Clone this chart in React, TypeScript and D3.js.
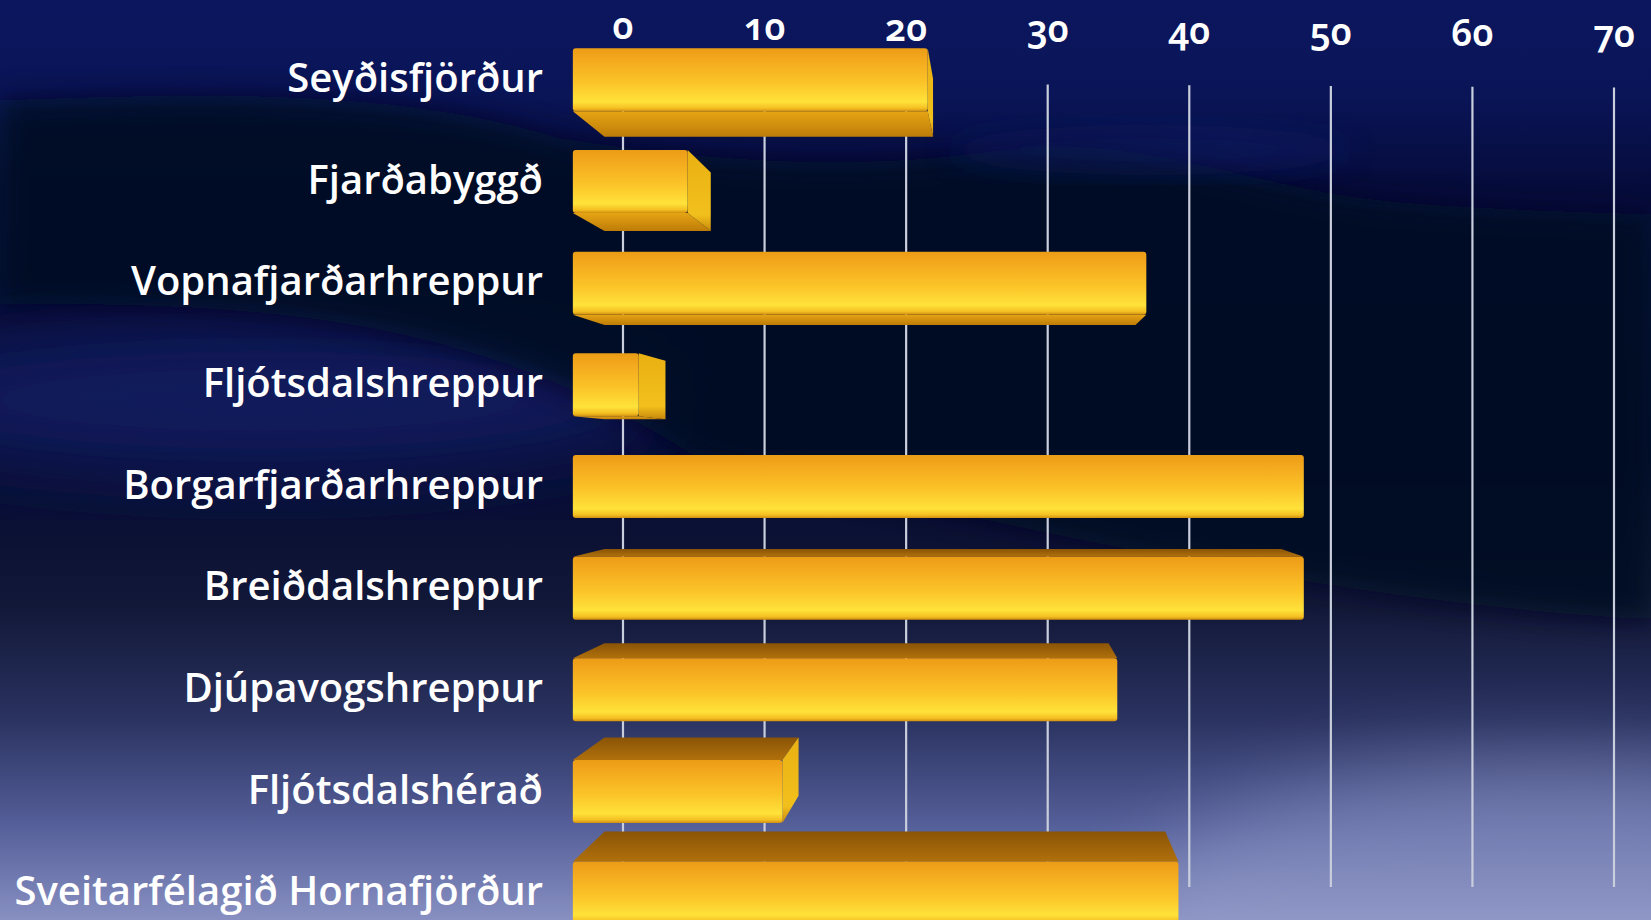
import React from "react";
import * as d3 from "d3";

const categories = [
  "Seyðisfjörður",
  "Fjarðabyggð",
  "Vopnafjarðarhreppur",
  "Fljótsdalshreppur",
  "Borgarfjarðarhreppur",
  "Breiðdalshreppur",
  "Djúpavogshreppur",
  "Fljótsdalshérað",
  "Sveitarfélagið Hornafjörður",
];
const values = [21.9, 6.2, 36.2, 3.0, 46.5, 46.5, 34.3, 12.4, 38.3];
const tickValues = [0, 10, 20, 30, 40, 50, 60, 70];

const W = 1651;
const H = 920;
// pseudo-3D perspective: vanishing centre and front/back scale ratio
const CX = 1000;
const CY = 455;
const K = 1.08;

export default function App() {
  const xGrid = d3.scaleLinear().domain([0, 70]).range([623, 1614]);
  const xFront = (v: number) => CX + (xGrid(v) - CX) * K;
  const y = d3
    .scaleBand<string>()
    .domain(categories)
    .range([29, 944])
    .paddingInner(0.38)
    .paddingOuter(0.19);
  const tilt = d3.scaleLinear().domain([0, 70]).range([0, 8]);
  const bx = (p: number) => CX + (p - CX) / K;
  const by = (p: number) => CY + (p - CY) / K;
  const bw = y.bandwidth();
  const leftPad = 20;

  const pts = (a: number[][]) => a.map((p) => p.join(",")).join(" ");

  return (
    <svg
      width={W}
      height={H}
      style={{ position: "absolute", left: 0, top: 0, display: "block" }}
    >
      <defs>
        <linearGradient id="bg" x1="0" y1="0" x2="0" y2="1">
          <stop offset="0" stopColor="#0b165e" />
          <stop offset="0.1" stopColor="#0a1558" />
          <stop offset="0.2" stopColor="#060c3c" />
          <stop offset="0.5" stopColor="#050a30" />
          <stop offset="0.66" stopColor="#121838" />
          <stop offset="0.78" stopColor="#2a3260" />
          <stop offset="0.9" stopColor="#56609a" />
          <stop offset="1" stopColor="#8890c2" />
        </linearGradient>
        <filter id="blur" x="-20%" y="-20%" width="140%" height="140%">
          <feGaussianBlur stdDeviation="14" />
        </filter>
        <filter id="blur2" x="-30%" y="-30%" width="160%" height="160%">
          <feGaussianBlur stdDeviation="40" />
        </filter>
        <linearGradient id="front" x1="0" y1="0" x2="0" y2="1">
          <stop offset="0" stopColor="#eb9c16" />
          <stop offset="0.2" stopColor="#f4aa1e" />
          <stop offset="0.55" stopColor="#fbc428" />
          <stop offset="0.85" stopColor="#ffe23a" />
          <stop offset="0.95" stopColor="#f4bf22" />
          <stop offset="1" stopColor="#cf8e10" />
        </linearGradient>
        <linearGradient id="bottomFace" x1="0" y1="0" x2="0" y2="1">
          <stop offset="0" stopColor="#e6a414" />
          <stop offset="1" stopColor="#bd7c08" />
        </linearGradient>
        <linearGradient id="topFace" x1="0" y1="0" x2="0" y2="1">
          <stop offset="0" stopColor="#8a5406" />
          <stop offset="1" stopColor="#b0700c" />
        </linearGradient>
        <linearGradient id="sideFace" x1="0" y1="0" x2="0" y2="1">
          <stop offset="0" stopColor="#e9b012" />
          <stop offset="0.8" stopColor="#f2c01c" />
          <stop offset="1" stopColor="#c8880c" />
        </linearGradient>
      </defs>

      {/* background */}
      <rect x={0} y={0} width={W} height={H} fill="url(#bg)" />
      <ellipse cx={260} cy={400} rx={420} ry={75} fill="#16226c" opacity={0.75} filter="url(#blur2)" />
      <path
        d="M0,100 C200,92 400,88 560,138 C700,160 850,172 1000,150 C1150,132 1250,190 1400,202 C1500,210 1600,212 1651,214 L1651,620 C1300,600 1000,520 700,460 C500,330 300,300 0,305 Z"
        fill="#030722"
        opacity={0.85}
        filter="url(#blur)"
      />
      <ellipse cx={1150} cy={150} rx={200} ry={25} fill="#101a66" opacity={0.5} filter="url(#blur)" />
      <ellipse cx={1550} cy={920} rx={420} ry={160} fill="#98a0cc" opacity={0.45} filter="url(#blur2)" />

      {/* gridlines */}
      {tickValues.map((t) => (
        <line
          key={"g" + t}
          x1={xGrid(t)}
          x2={xGrid(t)}
          y1={82 + tilt(t) * 0.7}
          y2={887}
          stroke="#c9cedc"
          strokeWidth={2.2}
        />
      ))}

      {/* tick labels */}
      {tickValues.map((t) => (
        <text
          key={"t" + t}
          x={xGrid(t)}
          y={39 + tilt(t)}
          textAnchor="middle"
          fill="#ffffff"
          fontFamily="'Noto Sans', sans-serif"
          fontWeight={600}
          fontSize={37}
          style={{ fontVariantNumeric: "oldstyle-nums", fontFeatureSettings: '"onum" 1' }}
        >
          {t}
        </text>
      ))}

      {/* bars */}
      {categories.map((c, i) => {
        const x0 = xFront(0) - leftPad;
        const x1 = xFront(values[i]);
        const y0 = y(c) as number;
        const y1 = y0 + bw;
        const faces: JSX.Element[] = [];
        if (y1 < CY) {
          faces.push(
            <polygon
              key="b"
              points={pts([[x0, y1], [x1, y1], [bx(x1), by(y1)], [bx(x0), by(y1)]])}
              fill="url(#bottomFace)"
            />
          );
        }
        if (y0 > CY) {
          faces.push(
            <polygon
              key="t"
              points={pts([[x0, y0], [x1, y0], [bx(x1), by(y0)], [bx(x0), by(y0)]])}
              fill="url(#topFace)"
            />
          );
        }
        if (x1 < CX) {
          faces.push(
            <polygon
              key="s"
              points={pts([[x1, y0], [bx(x1), by(y0)], [bx(x1), by(y1)], [x1, y1]])}
              fill="url(#sideFace)"
            />
          );
        }
        return (
          <g key={c}>
            {faces}
            <rect x={x0} y={y0} width={x1 - x0} height={bw} rx={3} fill="url(#front)" />
          </g>
        );
      })}

      {/* category labels */}
      {categories.map((c) => (
        <text
          key={"l" + c}
          x={543}
          y={(y(c) as number) + bw / 2 + 12}
          textAnchor="end"
          fill="#ffffff"
          fontFamily="'Open Sans', sans-serif"
          fontWeight={600}
          fontSize={40}
        >
          {c}
        </text>
      ))}
    </svg>
  );
}
